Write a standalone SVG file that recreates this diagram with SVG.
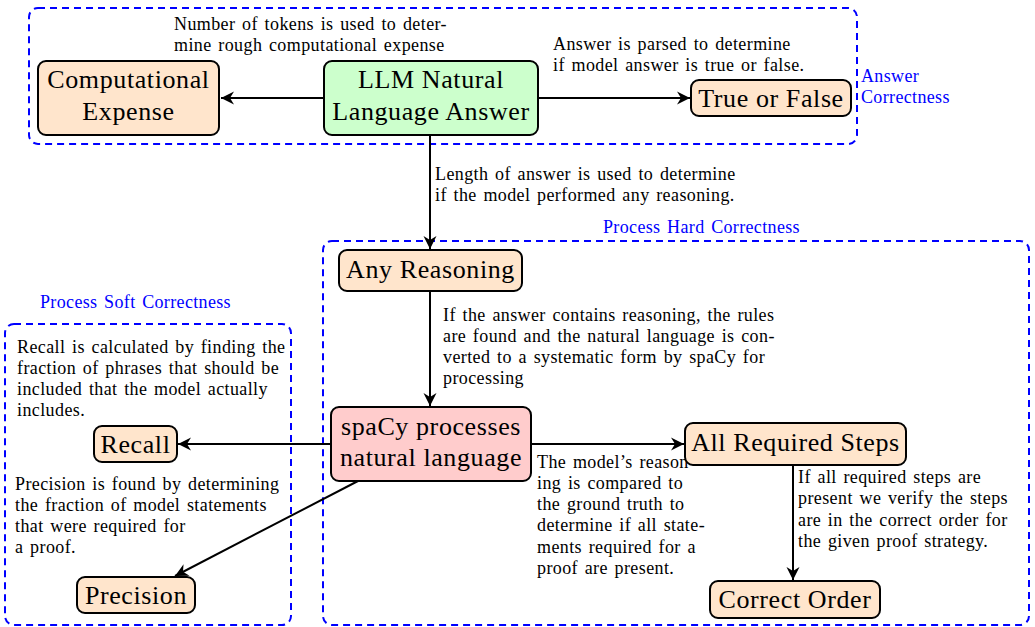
<svg xmlns="http://www.w3.org/2000/svg" width="1035" height="627" viewBox="0 0 1035 627">
<defs>
<marker id="arr" markerWidth="16" markerHeight="14" viewBox="-14 -7 16 14" refX="0" refY="0" orient="auto" markerUnits="userSpaceOnUse">
<path d="M0,0 L-13,-6.5 L-9,0 L-13,6.5 Z" fill="#000"/>
</marker>
</defs>
<style>
.grp{fill:none;stroke:#0000ff;stroke-width:2;stroke-dasharray:7 5}
.gl{font-family:"Liberation Serif",serif;font-size:18px;letter-spacing:0.35px;word-spacing:1.8px;fill:#0000ff}
.node rect{stroke:#000;stroke-width:2}
.or{fill:#ffe5cc}
.gr{fill:#ccffcc}
.rd{fill:#ffcccc}
.nt{font-family:"Liberation Serif",serif;font-size:26px;letter-spacing:0.6px;fill:#000;text-anchor:middle}
.at{font-family:"Liberation Serif",serif;font-size:18px;letter-spacing:0.4px;word-spacing:1.8px;fill:#000}
.con line{stroke:#000;stroke-width:2;marker-end:url(#arr)}
</style>
<rect width="1035" height="627" fill="#fff"/>
<g id="groups">
<rect class="grp" x="29" y="8" width="828" height="136" rx="9"/>
<text class="gl" x="861" y="82">Answer</text>
<text class="gl" x="861" y="103">Correctness</text>
<rect class="grp" x="323" y="241" width="706" height="384" rx="9"/>
<text class="gl" x="603" y="233">Process Hard Correctness</text>
<rect class="grp" x="5" y="324" width="286" height="301" rx="9"/>
<text class="gl" x="40" y="308">Process Soft Correctness</text>
</g>
<g id="connectors" class="con">
<line x1="324" y1="98" x2="221" y2="98"/>
<line x1="538" y1="98" x2="690" y2="98"/>
<line x1="430" y1="135" x2="430" y2="249"/>
<line x1="430" y1="291" x2="430" y2="406"/>
<line x1="531" y1="444" x2="684" y2="444"/>
<line x1="331" y1="444" x2="178" y2="444"/>
<line x1="358" y1="481" x2="175" y2="576"/>
<line x1="793" y1="465" x2="793" y2="580"/>
</g>
<g id="labels" class="at">
<text x="174" y="30">Number of tokens is used to deter-</text>
<text x="174" y="51">mine rough computational expense</text>
<text x="553" y="50">Answer is parsed to determine</text>
<text x="553" y="71">if model answer is true or false.</text>
<text x="435" y="180">Length of answer is used to determine</text>
<text x="435" y="201">if the model performed any reasoning.</text>
<text x="443" y="321">If the answer contains reasoning, the rules</text>
<text x="443" y="342">are found and the natural language is con-</text>
<text x="443" y="363">verted to a systematic form by spaCy for</text>
<text x="443" y="384">processing</text>
<text x="17" y="353">Recall is calculated by finding the</text>
<text x="17" y="374">fraction of phrases that should be</text>
<text x="17" y="395">included that the model actually</text>
<text x="17" y="416">includes.</text>
<text x="15" y="490">Precision is found by determining</text>
<text x="15" y="511">the fraction of model statements</text>
<text x="15" y="532">that were required for</text>
<text x="15" y="553">a proof.</text>
<text x="537" y="468">The model’s reason</text>
<text x="537" y="489">ing is compared to</text>
<text x="537" y="510">the ground truth to</text>
<text x="537" y="531">determine if all state-</text>
<text x="537" y="553">ments required for a</text>
<text x="537" y="574">proof are present.</text>
<text x="798" y="483">If all required steps are</text>
<text x="798" y="504">present we verify the steps</text>
<text x="798" y="526">are in the correct order for</text>
<text x="798" y="547">the given proof strategy.</text>
</g>
<g id="n-llm" class="node">
<rect class="gr" x="324" y="61" width="214" height="74" rx="8"/>
<text class="nt" x="431" y="88">LLM Natural</text>
<text class="nt" x="431" y="120">Language Answer</text>
</g>
<g id="n-comp" class="node">
<rect class="or" x="38" y="61" width="181" height="74" rx="8"/>
<text class="nt" x="128.5" y="88">Computational</text>
<text class="nt" x="128.5" y="120">Expense</text>
</g>
<g id="n-tf" class="node">
<rect class="or" x="691" y="80" width="160" height="36" rx="8"/>
<text class="nt" x="771" y="107">True or False</text>
</g>
<g id="n-any" class="node">
<rect class="or" x="339" y="250" width="183" height="41" rx="8"/>
<text class="nt" x="430.5" y="278">Any Reasoning</text>
</g>
<g id="n-spacy" class="node">
<rect class="rd" x="331" y="407" width="200" height="74" rx="8"/>
<text class="nt" x="431" y="435">spaCy processes</text>
<text class="nt" x="431" y="466">natural language</text>
</g>
<g id="n-all" class="node">
<rect class="or" x="685" y="423" width="221" height="42" rx="8"/>
<text class="nt" x="795.5" y="451">All Required Steps</text>
</g>
<g id="n-order" class="node">
<rect class="or" x="710" y="581" width="170" height="37" rx="8"/>
<text class="nt" x="795" y="608">Correct Order</text>
</g>
<g id="n-recall" class="node">
<rect class="or" x="94" y="426" width="83" height="36" rx="8"/>
<text class="nt" x="135.5" y="453">Recall</text>
</g>
<g id="n-prec" class="node">
<rect class="or" x="77" y="577" width="118" height="36" rx="8"/>
<text class="nt" x="136" y="604">Precision</text>
</g>
</svg>
